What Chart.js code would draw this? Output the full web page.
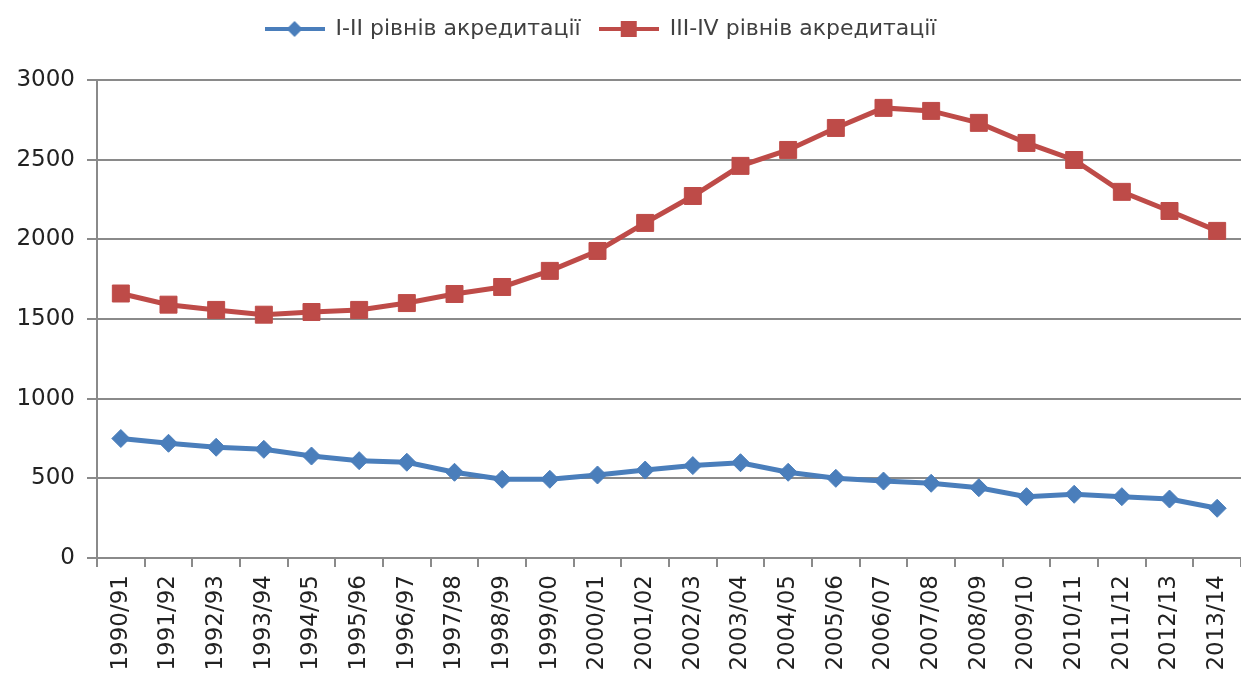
<!DOCTYPE html>
<html>
<head>
<meta charset="utf-8">
<script src="https://cdn.jsdelivr.net/npm/chart.js@4.4.1/dist/chart.umd.min.js"></script>
<style>
  html, body { margin: 0; padding: 0; background: #fff; overflow: hidden; }
  #wrap { width: 1241px; height: 682px; position: relative; }
  canvas { display: block; }
</style>
</head>
<body>
<div id="wrap"><canvas id="c"></canvas></div>
<script>
// навчальні роки
const years = ['1990/91','1991/92','1992/93','1993/94','1994/95','1995/96','1996/97','1997/98',
  '1998/99','1999/00','2000/01','2001/02','2002/03','2003/04','2004/05','2005/06','2006/07',
  '2007/08','2008/09','2009/10','2010/11','2011/12','2012/13','2013/14'];

// I-II рівнів акредитації
const level12 = [750, 720, 695, 682, 640, 611, 601, 538, 494, 494, 521, 552, 580, 598,
  538, 500, 483, 469, 441, 385, 400, 385, 370, 312];

// III-IV рівнів акредитації
const level34 = [1660, 1590, 1557, 1527, 1544, 1557, 1600, 1657, 1701, 1802, 1927, 2103,
  2272, 2461, 2561, 2699, 2825, 2806, 2731, 2605, 2498, 2298, 2178, 2053];

const yTicks = [0, 500, 1000, 1500, 2000, 2500, 3000];

const BLUE = '#4a7ebb';
const RED = '#be4b48';

// значок легенди: лінія з маркером посередині
function legendIcon(color, shape) {
  const cv = document.createElement('canvas');
  cv.width = 60; cv.height = 20;
  const g = cv.getContext('2d');
  g.strokeStyle = color;
  g.lineWidth = 4;
  g.beginPath(); g.moveTo(0, 10); g.lineTo(60, 10); g.stroke();
  g.fillStyle = color;
  g.beginPath();
  if (shape === 'diamond') {
    g.moveTo(30, 2); g.lineTo(38, 10); g.lineTo(30, 18); g.lineTo(22, 10);
  } else {
    g.rect(22, 2, 16, 16);
  }
  g.closePath(); g.fill();
  return cv;
}

const legendShift = {
  id: 'legendShift',
  beforeInit(chart) {
    const fit = chart.legend.fit;
    chart.legend.fit = function () {
      fit.call(this);
      this.height = 80;
    };
  },
  afterLayout(chart) {
    chart.legend.right -= 40;
  }
};

new Chart(document.getElementById('c'), {
  type: 'line',
  data: {
    labels: years,
    datasets: [{
      label: 'I-II рівнів акредитації',
      data: level12,
      borderColor: BLUE,
      backgroundColor: BLUE,
      borderWidth: 5,
      pointStyle: 'rectRot',
      pointRadius: 9,
      pointBorderWidth: 1,
      tension: 0
    }, {
      label: 'III-IV рівнів акредитації',
      data: level34,
      borderColor: RED,
      backgroundColor: RED,
      borderWidth: 5,
      pointStyle: 'rect',
      pointRadius: 12,
      pointBorderWidth: 1,
      tension: 0
    }]
  },
  options: {
    responsive: true,
    maintainAspectRatio: false,
    animation: false,
    layout: { padding: 0, autoPadding: false },
    plugins: {
      legend: {
        position: 'top',
        labels: {
          usePointStyle: true,
          pointStyleWidth: 60,
          padding: 18,
          color: '#404040',
          font: { family: 'DejaVu Sans', size: 22 },
          generateLabels(chart) {
            return chart.data.datasets.map((ds, i) => ({
              text: ds.label,
              datasetIndex: i,
              fillStyle: ds.borderColor,
              strokeStyle: ds.borderColor,
              lineWidth: 0,
              fontColor: '#404040',
              pointStyle: legendIcon(ds.borderColor, i === 0 ? 'diamond' : 'square')
            }));
          }
        }
      },
      tooltip: { enabled: false }
    },
    scales: {
      x: {
        offset: true,
        grid: {
          offset: true,
          drawOnChartArea: false,
          drawTicks: true,
          tickLength: 9,
          color: '#8a8a8a',
          lineWidth: 2
        },
        border: { color: '#8a8a8a', width: 2 },
        ticks: {
          autoSkip: false,
          minRotation: 90,
          maxRotation: 90,
          padding: 8,
          color: '#222',
          font: { family: 'DejaVu Sans', size: 23 }
        },
        afterFit(axis) {
          axis.height = 124;
          axis.paddingLeft = 0;
          axis.paddingRight = 0;
        }
      },
      y: {
        min: 0,
        max: 3000,
        afterBuildTicks(axis) { axis.ticks = yTicks.map(v => ({ value: v })); },
        grid: {
          color: '#8a8a8a',
          lineWidth: 2,
          tickLength: 10
        },
        border: { color: '#8a8a8a', width: 2 },
        ticks: {
          padding: 12,
          color: '#222',
          font: { family: 'DejaVu Sans', size: 23 },
          callback: v => String(v)
        },
        afterFit(axis) {
          axis.width = 97;
          axis.paddingTop = 0;
          axis.paddingBottom = 0;
        }
      }
    }
  },
  plugins: [legendShift]
});
</script>
</body>
</html>
